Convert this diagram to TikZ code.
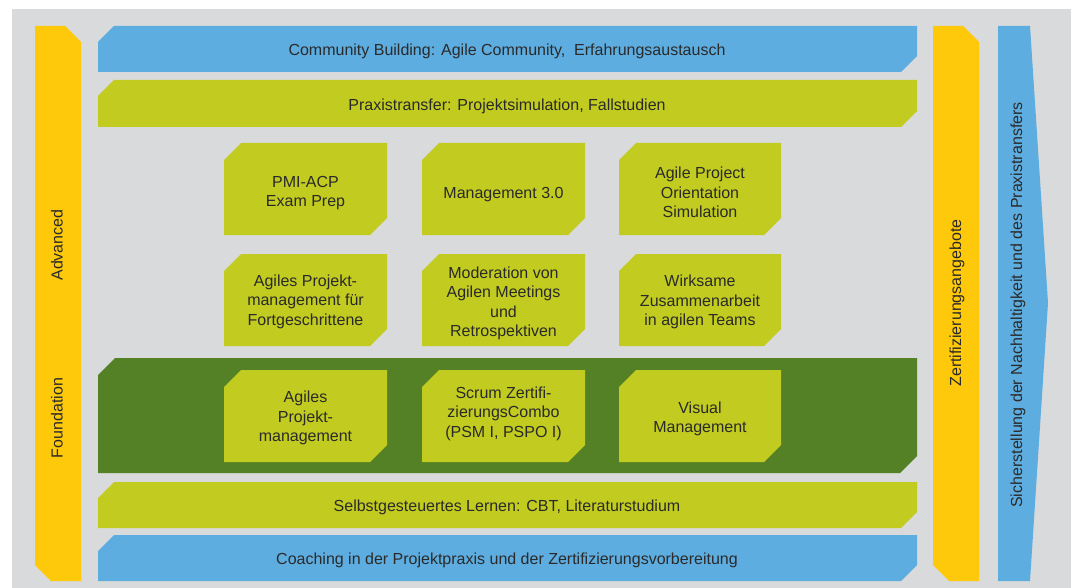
\documentclass[tikz,border=0pt]{standalone}
\usepackage{fontspec}
\setmainfont{Liberation Sans}
\definecolor{bgray}{HTML}{D9DADB}
\definecolor{sky}{HTML}{5EADE0}
\definecolor{lime}{HTML}{C2CB1F}
\definecolor{forest}{HTML}{548126}
\definecolor{amber}{HTML}{FEC90A}
\definecolor{ink}{HTML}{2A2A2A}
% panel with cut top-left and bottom-right corners
\newcommand\cutTLBR[6]{\fill[#6] (#1,#2+#5) -- (#1+#5,#2) -- (#3,#2) -- (#3,#4-#5) -- (#3-#5,#4) -- (#1,#4) -- cycle;}
% panel with cut top-right and bottom-left corners
\newcommand\cutTRBL[6]{\fill[#6] (#1,#2) -- (#3-#5,#2) -- (#3,#2+#5) -- (#3,#4) -- (#1+#5,#4) -- (#1,#4-#5) -- cycle;}
\tikzset{
  lbl/.style={text=ink, align=center, inner sep=0pt,
    font=\fontsize{16}{19.5}\selectfont},
  vlbl/.style={lbl, rotate=90}
}
\begin{document}
\begin{tikzpicture}[x=1pt, y=-1pt]
\useasboundingbox (0,0) rectangle (1078,588);
\fill[white] (0,0) rectangle (1078,588);
\fill[bgray] (12,9) rectangle (1071,588);

% side bars
\cutTRBL{35}{26}{81}{581}{16}{amber}
\cutTRBL{933}{26}{979}{581}{16}{amber}
\fill[sky] (998,26) -- (1030,26) -- (1048,303) -- (1030,581) -- (998,581) -- cycle;

% horizontal bands
\cutTLBR{98}{26}{917}{72}{16}{sky}
\cutTLBR{98}{80}{917}{127}{16}{lime}
\cutTLBR{98}{358}{917}{473}{17}{forest}
\cutTLBR{98}{482}{917}{528}{16}{lime}
\cutTLBR{98}{535}{917}{581}{16}{sky}

% course boxes
\cutTLBR{224}{143}{387}{235}{17}{lime}
\cutTLBR{422}{143}{585}{235}{17}{lime}
\cutTLBR{619}{143}{781}{235}{17}{lime}
\cutTLBR{224}{254}{387}{346}{17}{lime}
\cutTLBR{422}{254}{585}{346}{17}{lime}
\cutTLBR{619}{254}{781}{346}{17}{lime}
\cutTLBR{224}{370}{387}{462}{17}{lime}
\cutTLBR{422}{370}{585}{462}{17}{lime}
\cutTLBR{619}{370}{781}{462}{17}{lime}

% labels
\node[lbl] (community) at (507,51) {Community Building: Agile Community,\ \ Erfahrungsaustausch};
\node[lbl] (praxis) at (507,106) {Praxistransfer: Projektsimulation, Fallstudien};
\node[lbl] (selbst) at (507,507) {Selbstgesteuertes Lernen: CBT, Literaturstudium};
\node[lbl] (coaching) at (507,560) {Coaching in der Projektpraxis und der Zertifizierungsvorbereitung};

\node[lbl] (pmi) at (305.5,193) {PMI-ACP\\Exam Prep};
\node[lbl] (mgmt) at (503.5,195) {Management 3.0};
\node[lbl] (apos) at (700,192.5) {Agile Project\\Orientation\\Simulation};
\node[lbl] (apm) at (305.5,301.5) {Agiles Projekt-\\management für\\Fortgeschrittene};
\node[lbl] (moder) at (503.5,303.5) {Moderation von\\Agilen Meetings\\und\\Retrospektiven};
\node[lbl] (teams) at (700,302) {Wirksame\\Zusammenarbeit\\in agilen Teams};
\node[lbl] (agpm) at (305.5,418) {Agiles\\Projekt-\\management};
\node[lbl] (scrum) at (503.5,413.5) {Scrum Zertifi-\\zierungsCombo\\(PSM I, PSPO I)};
\node[lbl] (visual) at (700,419) {Visual\\Management};

\node[vlbl] (advanced) at (57,245) {Advanced};
\node[vlbl] (foundation) at (57,418) {Foundation};
\node[vlbl] (zert) at (957,303) {Zertifizierungsangebote};
\node[vlbl] (sicher) at (1018,305) {Sicherstellung der Nachhaltigkeit und des Praxistransfers};
\end{tikzpicture}
\end{document}
